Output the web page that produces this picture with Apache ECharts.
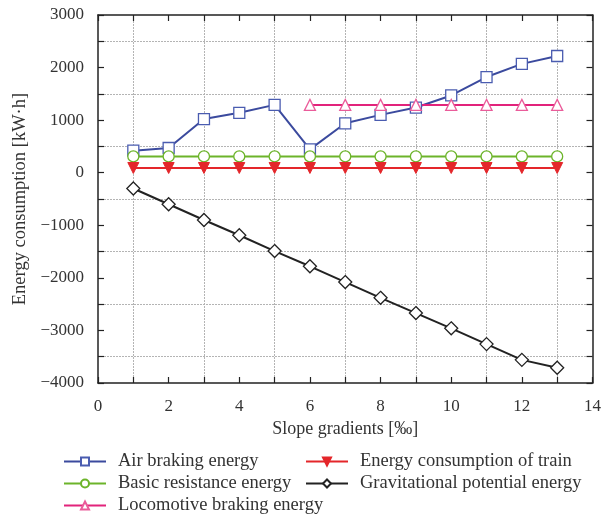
<!DOCTYPE html>
<html>
<head>
<meta charset="utf-8">
<script src="https://cdn.jsdelivr.net/npm/echarts@6/dist/echarts.min.js"></script>
<style>
  html, body { margin: 0; padding: 0; background: #fff; }
  #chart { width: 604px; height: 515px; }
</style>
</head>
<body>
<div id="chart"></div>
<script>
// Slope gradient (‰)
const gradients = [1, 2, 3, 4, 5, 6, 7, 8, 9, 10, 11, 12, 13];

// Energy components (kW·h)
const airBraking = [420, 470, 1020, 1140, 1290, 445, 940, 1100, 1240, 1470, 1820, 2070, 2220];
const basicResistance = [310, 310, 310, 310, 310, 310, 310, 310, 310, 310, 310, 310, 310];
const locoGradients = [6, 7, 8, 9, 10, 11, 12, 13];
const locoBraking = [1290, 1290, 1290, 1290, 1290, 1290, 1290, 1290];
const trainConsumption = [90, 90, 90, 90, 90, 90, 90, 90, 90, 90, 90, 90, 90];
const gravitational = [-300, -600, -900, -1190, -1490, -1780, -2080, -2380, -2670, -2960, -3260, -3560, -3710];

const names = {
  air: 'Air braking energy',
  basic: 'Basic resistance energy',
  loco: 'Locomotive braking energy',
  train: 'Energy consumption of train',
  grav: 'Gravitational potential energy'
};

const FONT = 'Liberation Serif';
const pairs = (xs, ys) => xs.map((x, i) => [x, ys[i]]);

const chart = echarts.init(document.getElementById('chart'), null, { renderer: 'canvas' });

const gridLine = { show: true, lineStyle: { color: '#b4b4b4', type: [2, 1], width: 1 } };
const axisLine = { show: true, onZero: false, lineStyle: { color: '#222', width: 1.5 } };

function xAxisDef(pos, labels) {
  return {
    type: 'value', position: pos, min: 0, max: 14, interval: 2,
    axisLine: axisLine,
    axisTick: { show: true, inside: true, length: 6, lineStyle: { color: '#222', width: 1.2 } },
    minorTick: { show: true, splitNumber: 2, length: 6, lineStyle: { color: '#222', width: 1.2 } },
    splitLine: { show: false },
    minorSplitLine: labels ? gridLine : { show: false },
    axisLabel: { show: labels, fontFamily: FONT, fontSize: 17, color: '#333', margin: 15 },
    name: labels ? 'Slope gradients [‰]' : '',
    nameLocation: 'middle', nameGap: 37,
    nameTextStyle: { fontFamily: FONT, fontSize: 18, color: '#333' }
  };
}

function yAxisDef(pos, labels) {
  return {
    type: 'value', position: pos, min: -4000, max: 3000, interval: 1000,
    axisLine: axisLine,
    axisTick: { show: true, inside: true, length: 6, lineStyle: { color: '#222', width: 1.2 } },
    minorTick: { show: true, splitNumber: 2, length: 6, lineStyle: { color: '#222', width: 1.2 } },
    splitLine: { show: false },
    minorSplitLine: labels ? gridLine : { show: false },
    axisLabel: {
      show: labels, fontFamily: FONT, fontSize: 17, color: '#333', margin: 14,
      formatter: v => (v < 0 ? '\u2212' + Math.abs(v) : String(v))
    },
    name: labels ? 'Energy consumption [kW·h]' : '',
    nameLocation: 'middle', nameGap: 68,
    nameTextStyle: { fontFamily: FONT, fontSize: 18.5, color: '#333' }
  };
}

function lineSeries(name, data, color, symbol, fill, extra) {
  return Object.assign({
    name: name, type: 'line', data: data,
    xAxisIndex: 0, yAxisIndex: 0,
    symbol: symbol, symbolSize: 11,
    showAllSymbol: true,
    lineStyle: { color: color, width: 2 },
    itemStyle: { color: fill, borderColor: color, borderWidth: 1.3 },
    emphasis: { disabled: true },
    animation: false,
    z: 3
  }, extra || {});
}

const legendText = { fontFamily: FONT, fontSize: 18.5, color: '#333', padding: [0, 0, 0, 7] };

// one legend entry per box so the two columns sit exactly where wanted
function legendEntry(name, left, centerY) {
  return {
    data: [name], orient: 'horizontal', left: left, top: centerY - 10,
    itemWidth: 42, itemHeight: 10, padding: 0,
    textStyle: legendText, selectedMode: false
  };
}

chart.setOption({
  animation: false,
  backgroundColor: '#fff',
  grid: { left: 98, right: 9, top: 15, bottom: 132, containLabel: false },
  xAxis: [xAxisDef('bottom', true), xAxisDef('top', false)],
  yAxis: [yAxisDef('left', true), yAxisDef('right', false)],
  legend: [
    legendEntry(names.air, 63, 462),
    legendEntry(names.basic, 63, 484),
    legendEntry(names.loco, 63, 506),
    legendEntry(names.train, 305, 462),
    legendEntry(names.grav, 305, 484)
  ],
  series: [
    lineSeries(names.air, pairs(gradients, airBraking), '#3b4a9e', 'rect', '#fff',
      { itemStyle: { color: '#fff', borderColor: '#4a5cb0', borderWidth: 1.3 } }),
    lineSeries(names.basic, pairs(gradients, basicResistance), '#6cb42a', 'circle', '#fff'),
    lineSeries(names.loco, pairs(locoGradients, locoBraking), '#e2237b', 'triangle', '#fff',
      { itemStyle: { color: '#fff', borderColor: '#ea5c9a', borderWidth: 1.3 } }),
    lineSeries(names.train, pairs(gradients, trainConsumption), '#e4262a', 'triangle', '#e4262a',
      { symbolRotate: 180, itemStyle: { color: '#e4262a', borderColor: '#e4262a', borderWidth: 1 } }),
    lineSeries(names.grav, pairs(gradients, gravitational), '#222', 'diamond', '#fff',
      { symbolSize: 13, itemStyle: { color: '#fff', borderColor: '#222', borderWidth: 1.3 } })
  ]
});
</script>
</body>
</html>
